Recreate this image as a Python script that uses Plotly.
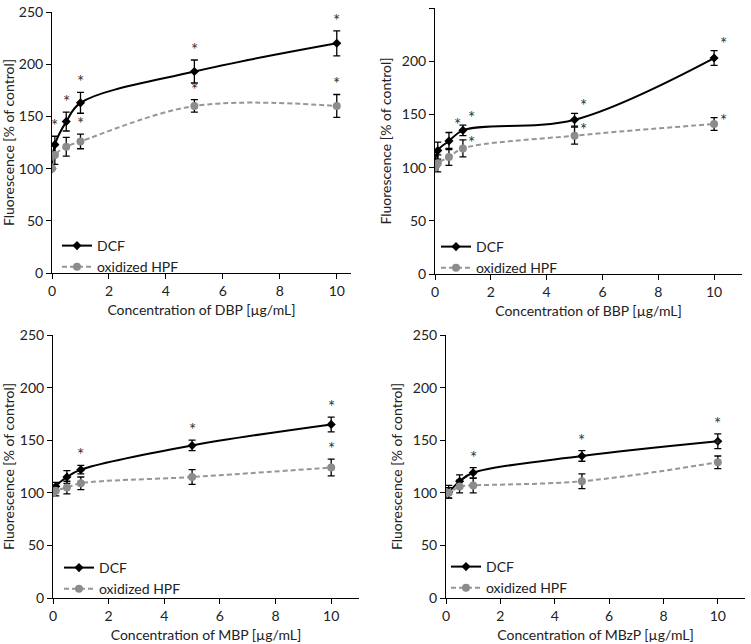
import plotly.graph_objects as go

# ---- data ----
conc = [0, 0.1, 0.5, 1, 5, 10]
x_ticks = [0, 2, 4, 6, 8, 10]
y_ticks = [0, 50, 100, 150, 200, 250]

dbp_dcf = [100, 123, 145, 163, 193, 220]
dbp_dcf_err = [0, 8, 9, 10, 11, 12]
dbp_hpf = [100, 113, 121, 126, 160, 160]
dbp_hpf_err = [0, 9, 9, 7, 6, 11]
dbp_dcf_sig = [0, 1, 1, 1, 1, 1]
dbp_hpf_sig = [0, 0, 0, 1, 1, 1]

bbp_dcf = [100, 116, 125, 135, 145, 203]
bbp_dcf_err = [0, 8, 8, 5, 6, 7]
bbp_hpf = [100, 104, 110, 118, 130, 141]
bbp_hpf_err = [0, 8, 8, 8, 8, 6]
bbp_dcf_sig = [0, 0, 1, 1, 1, 1]
bbp_hpf_sig = [0, 0, 0, 1, 1, 1]

mbp_dcf = [100, 106, 115, 122, 145, 165]
mbp_dcf_err = [0, 4, 6, 4, 5, 7]
mbp_hpf = [100, 102, 105, 109, 115, 124]
mbp_hpf_err = [0, 5, 6, 6, 7, 8]
mbp_dcf_sig = [0, 0, 0, 1, 1, 1]
mbp_hpf_sig = [0, 0, 0, 0, 0, 1]

mbzp_dcf = [100, 101, 111, 119, 135, 149]
mbzp_dcf_err = [0, 6, 6, 5, 5, 7]
mbzp_hpf = [100, 100, 106, 107, 111, 129]
mbzp_hpf_err = [0, 5, 6, 7, 7, 6]
mbzp_dcf_sig = [0, 0, 0, 1, 1, 1]
mbzp_hpf_sig = [0, 0, 0, 0, 0, 1]

compounds = ["DBP", "BBP", "MBP", "MBzP"]

# ---- layout config ----
W, H = 751, 644
FONT = "Lato"
GRAY = "#8c8c8c"

def px(x): return x / W
def py(y): return 1 - y / H

panels = [
    dict(c=compounds[0], dcf=dbp_dcf, de=dbp_dcf_err, hpf=dbp_hpf, he=dbp_hpf_err,
         ds=dbp_dcf_sig, hs=dbp_hpf_sig,
         xd=[px(52), px(351)], yd=[py(273), py(12)], xmax=10.5,
         leg=(px(57), py(230)), sx=0, dsy=0, hsy=0),
    dict(c=compounds[1], dcf=bbp_dcf, de=bbp_dcf_err, hpf=bbp_hpf, he=bbp_hpf_err,
         ds=bbp_dcf_sig, hs=bbp_hpf_sig,
         xd=[px(435), px(742)], yd=[py(274), py(8)], xmax=11,
         leg=(px(436), py(231)), sx=9, dsy=-3, hsy=-13),
    dict(c=compounds[2], dcf=mbp_dcf, de=mbp_dcf_err, hpf=mbp_hpf, he=mbp_hpf_err,
         ds=mbp_dcf_sig, hs=mbp_hpf_sig,
         xd=[px(53), px(359)], yd=[py(598), py(335)], xmax=11,
         leg=(px(59), py(552)), sx=0, dsy=0, hsy=0),
    dict(c=compounds[3], dcf=mbzp_dcf, de=mbzp_dcf_err, hpf=mbzp_hpf, he=mbzp_hpf_err,
         ds=mbzp_dcf_sig, hs=mbzp_hpf_sig,
         xd=[px(446), px(745)], yd=[py(598), py(335)], xmax=11,
         leg=(px(446), py(551)), sx=0, dsy=0, hsy=0),
]

fig = go.Figure()
annotations = []
layout_axes = {}

for i, p in enumerate(panels, start=1):
    xa = "x" if i == 1 else f"x{i}"
    ya = "y" if i == 1 else f"y{i}"
    leg = "legend" if i == 1 else f"legend{i}"
    fig.add_trace(go.Scatter(
        x=conc, y=p["dcf"], xaxis=xa, yaxis=ya, legend=leg, name="DCF",
        mode="lines+markers", line=dict(color="black", width=2, shape="spline"),
        marker=dict(symbol="diamond", size=7, color="black"),
        error_y=dict(type="data", array=p["de"], color="black", thickness=1.3, width=3.5),
    ))
    fig.add_trace(go.Scatter(
        x=conc, y=p["hpf"], xaxis=xa, yaxis=ya, legend=leg, name="oxidized HPF",
        mode="lines+markers", line=dict(color="#969696", width=2, dash="5px,3px", shape="spline"),
        marker=dict(symbol="circle", size=8, color=GRAY),
        error_y=dict(type="data", array=p["he"], color="black", thickness=1.3, width=3.5),
    ))
    for vals, errs, sig, ysh in ((p["dcf"], p["de"], p["ds"], p["dsy"]),
                                 (p["hpf"], p["he"], p["hs"], p["hsy"])):
        for xv, v, e, s in zip(conc, vals, errs, sig):
            if s:
                annotations.append(dict(
                    x=xv, y=v + e, xref=xa, yref=ya, text="*", showarrow=False,
                    yanchor="bottom", xanchor="center", xshift=p["sx"], yshift=ysh - 2,
                    font=dict(family=FONT, size=17, color="#333333"),
                ))
    axis_common = dict(showline=True, linecolor="black", linewidth=1, ticks="outside",
                       ticklen=5, tickwidth=1, tickcolor="black", showgrid=False,
                       zeroline=False, automargin=False,
                       tickfont=dict(family=FONT, size=14, color="#222222"))
    layout_axes["xaxis" if i == 1 else f"xaxis{i}"] = dict(
        domain=p["xd"], anchor=ya, range=[0, p["xmax"]], tickvals=x_ticks,
        title=dict(text=f"Concentration of {p['c']} [µg/mL]",
                   font=dict(family=FONT, size=14, color="#222222"), standoff=7),
        **axis_common)
    layout_axes["yaxis" if i == 1 else f"yaxis{i}"] = dict(
        domain=p["yd"], anchor=xa, range=[0, 250], tickvals=y_ticks,
        title=dict(text="Fluorescence [% of control]",
                   font=dict(family=FONT, size=14, color="#222222"), standoff=6),
        **axis_common)
    layout_axes[leg] = dict(
        x=p["leg"][0], y=p["leg"][1], xanchor="left", yanchor="top",
        bgcolor="rgba(0,0,0,0)", font=dict(family=FONT, size=14, color="#222222"),
        tracegroupgap=0, itemwidth=30,
    )

fig.update_layout(
    width=W, height=H, margin=dict(l=0, r=0, t=0, b=0),
    paper_bgcolor="white", plot_bgcolor="white",
    annotations=annotations, **layout_axes,
)

fig.write_html("out.html", config={"displayModeBar": False},
               post_script="document.body.style.margin='0';document.body.style.overflow='hidden';")
